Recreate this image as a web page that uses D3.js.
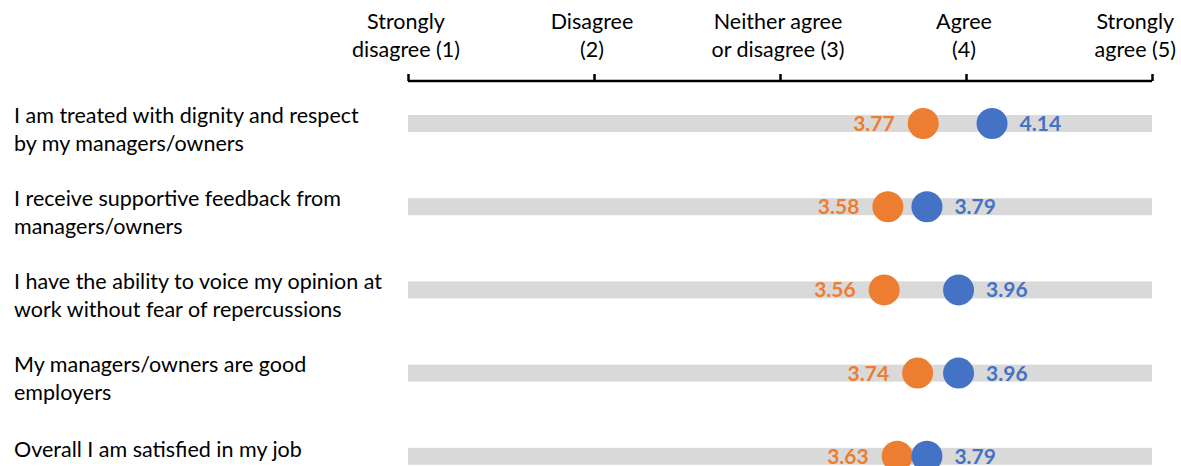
<!DOCTYPE html>
<html>
<head>
<meta charset="utf-8">
<script src="https://cdn.jsdelivr.net/npm/d3@7"></script>
<style>
  html, body { margin: 0; padding: 0; background: #fff; }
  svg { display: block; font-family: Lato, "Open Sans", sans-serif; }
</style>
</head>
<body>
<svg id="chart" width="1181" height="466"></svg>
<script>
// Survey statements (each entry is the wrapped lines of the label)
const categories = [
  ["I am treated with dignity and respect", "by my managers/owners"],
  ["I receive supportive feedback from", "managers/owners"],
  ["I have the ability to voice my opinion at", "work without fear of repercussions"],
  ["My managers/owners are good", "employers"],
  ["Overall I am satisfied in my job"]
];
// Mean scores for the two groups
const orangeValues = [3.77, 3.58, 3.56, 3.74, 3.63];
const blueValues   = [4.14, 3.79, 3.96, 3.96, 3.79];
// Scale points along the top axis
const tickValues = [1, 2, 3, 4, 5];
const tickLabels = [
  ["Strongly", "disagree (1)"],
  ["Disagree", "(2)"],
  ["Neither agree", "or disagree (3)"],
  ["Agree", "(4)"],
  ["Strongly", "agree (5)"]
];

const W = 1181;
const svg = d3.select("#chart");
const ORANGE = "#ED7D31", BLUE = "#4472C4", GREY = "#D9D9D9";
const FS = 21.5;

const x = d3.scaleLinear().domain([1, 5]).range([408, 1152]);
const y = d3.scalePoint().domain(d3.range(categories.length)).range([123.5, 456.3]);

// Top axis: bracket line with upward ticks
const axisY = 81;
const axis = d3.axisTop(x).tickValues(tickValues).tickSize(7).tickSizeOuter(0).tickFormat("");
const gAxis = svg.append("g").attr("transform", `translate(0,${axisY})`).call(axis);
gAxis.select(".domain").attr("stroke", "#000").attr("stroke-width", 2.5)
  .attr("d", `M${x(1)},0H${x(5)}`);
gAxis.selectAll(".tick line").attr("stroke", "#000").attr("stroke-width", 2.5);

// Axis labels above ticks, kept inside the right edge
const tl = svg.append("g").selectAll("text").data(tickValues).join("text")
  .attr("text-anchor", "middle")
  .attr("font-size", FS)
  .attr("fill", "#000");
tl.each(function(d, i) {
  const t = d3.select(this);
  tickLabels[i].forEach((line, j) => {
    t.append("tspan").attr("x", x(d) - 2).attr("y", 29 + j * 28).text(line);
  });
  let w = 0;
  t.selectAll("tspan").each(function() { w = Math.max(w, this.getComputedTextLength()); });
  const cx = Math.min(x(d) - 2, W - 5 - w / 2);
  t.selectAll("tspan").attr("x", cx);
});

// Grey background bars
svg.append("g").selectAll("rect").data(categories).join("rect")
  .attr("x", x(1))
  .attr("width", x(5) - x(1))
  .attr("y", (d, i) => y(i) - 8.5)
  .attr("height", 17)
  .attr("fill", GREY);

// Category labels
const cl = svg.append("g").selectAll("text").data(categories).join("text")
  .attr("font-size", FS)
  .attr("fill", "#000");
cl.each(function(lines, i) {
  const t = d3.select(this);
  const top = lines.length === 2 ? y(i) - 1 : y(i) + 1;
  lines.forEach((line, j) => {
    t.append("tspan").attr("x", 14).attr("y", top + j * 28).text(line);
  });
});

const R = 15.5;
const VFS = 21;
// Orange dots and labels (left of dot)
svg.append("g").selectAll("circle").data(orangeValues).join("circle")
  .attr("cx", d => x(d)).attr("cy", (d, i) => y(i)).attr("r", R).attr("fill", ORANGE);
svg.append("g").selectAll("text").data(orangeValues).join("text")
  .attr("x", d => x(d) - R - 13)
  .attr("y", (d, i) => y(i) + 7.5)
  .attr("text-anchor", "end")
  .attr("font-size", VFS).attr("font-weight", "bold")
  .attr("fill", ORANGE)
  .text(d => d.toFixed(2));

// Blue dots and labels (right of dot)
svg.append("g").selectAll("circle").data(blueValues).join("circle")
  .attr("cx", d => x(d)).attr("cy", (d, i) => y(i)).attr("r", R).attr("fill", BLUE);
svg.append("g").selectAll("text").data(blueValues).join("text")
  .attr("x", d => x(d) + R + 12)
  .attr("y", (d, i) => y(i) + 7.5)
  .attr("text-anchor", "start")
  .attr("font-size", VFS).attr("font-weight", "bold")
  .attr("fill", BLUE)
  .text(d => d.toFixed(2));
</script>
</body>
</html>
